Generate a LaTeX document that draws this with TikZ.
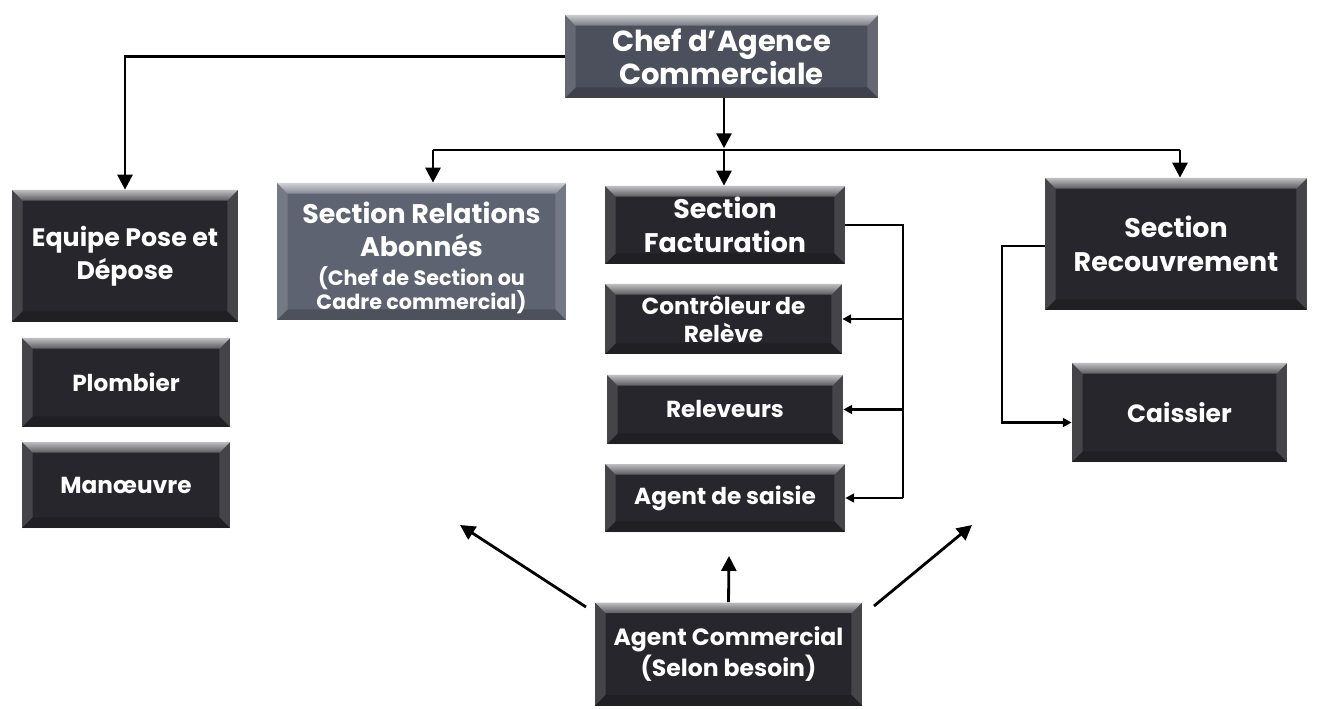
\documentclass[tikz,border=0pt]{standalone}
\usepackage{fontspec}
\setmainfont{Poppins}
\usetikzlibrary{arrows.meta}

\definecolor{boxdark}{HTML}{26262C}
\definecolor{boxmid}{HTML}{4C505C}
\definecolor{boxlight}{HTML}{5E6371}

\newcommand\titlefont{\fontsize{15.3}{19}\selectfont\bfseries}
\newcommand\chieffont{\fontsize{16.5}{19}\selectfont\bfseries}
\newcommand\agentfont{\fontsize{13.4}{18}\selectfont\bfseries}
\newcommand\cashfont{\fontsize{14.2}{18}\selectfont\bfseries}
\newcommand\teamfont{\fontsize{14.4}{19}\selectfont\bfseries}
\newcommand\itemfont{\fontsize{13.2}{16}\selectfont\bfseries}
\newcommand\subfont{\fontsize{11.8}{13}\selectfont\bfseries}

\tikzset{
  bevelbox/.style={
    fill=#1, text=white, align=center, inner sep=0pt,
    path picture={
      \path (path picture bounding box.north west) coordinate (nw)
            (path picture bounding box.north east) coordinate (ne)
            (path picture bounding box.south west) coordinate (sw)
            (path picture bounding box.south east) coordinate (se);
      % top bevel
      \shade[top color=white!70!#1, bottom color=white!25!#1]
        (nw) -- (ne) -- ([shift={(-6pt,-6pt)}]ne) -- ([shift={(6pt,-6pt)}]nw) -- cycle;
      % side bevels
      \fill[white, opacity=0.14]
        (nw) -- ([shift={(6pt,-6pt)}]nw) -- ([shift={(6pt,6pt)}]sw) -- (sw) -- cycle;
      \fill[white, opacity=0.14]
        (ne) -- ([shift={(-6pt,-6pt)}]ne) -- ([shift={(-6pt,6pt)}]se) -- (se) -- cycle;
      % bottom bevel
      \fill[black, opacity=0.18]
        (sw) -- ([shift={(6pt,6pt)}]sw) -- ([shift={(-6pt,6pt)}]se) -- (se) -- cycle;
    }
  },
  boxtext/.style={text=white, align=center, inner sep=0pt},
  sz/.style 2 args={minimum width=#1*0.02cm, minimum height=#2*0.02cm},
  link/.style={line width=1.6pt, draw=black},
  arr/.style={link, -{Triangle[length=8.5pt,width=8.5pt]}},
  smallarr/.style={link, -{Triangle[length=5pt,width=5pt]}}
}

\begin{document}
\begin{tikzpicture}[x=0.02cm, y=-0.02cm]
  \useasboundingbox[fill=white] (0,0) rectangle (1332,709);

  % top manager
  \node[bevelbox=boxmid, sz={313}{83}, font=\chieffont] (chef) at (721.5,56.5)
    {Chef d'Agence\\Commerciale};

  % left team
  \node[bevelbox=boxdark, sz={226}{132}, font=\teamfont] (equipe) at (125,256)
    {Equipe Pose et\\Dépose};
  \node[bevelbox=boxdark, sz={208}{89}, font=\itemfont] (plomb) at (126,382.5) {Plombier};
  \node[bevelbox=boxdark, sz={208}{86}, font=\itemfont] (manoe) at (126,485) {Manœuvre};

  % subscriber relations: box, then its text set a little below the centre
  \node[bevelbox=boxlight, sz={289}{137}] (rel) at (421.5,251.5) {};
  \node[boxtext, font=\titlefont] (reltext) at (421.5,258)
    {Section Relations\\Abonnés\\[-3pt]
     \subfont (Chef de Section ou\\[-5pt]\subfont Cadre commercial)};

  % billing section and its staff
  \node[bevelbox=boxdark, sz={240}{78}, font=\titlefont] (fact) at (725,225)
    {Section\\Facturation};
  \node[bevelbox=boxdark, sz={237}{70}, font=\itemfont] (ctrl) at (723.5,319)
    {Contrôleur de\\Relève};
  \node[bevelbox=boxdark, sz={236}{69}, font=\itemfont] (relev) at (725,409.5) {Releveurs};
  \node[bevelbox=boxdark, sz={240}{68}, font=\itemfont] (saisie) at (725,498) {Agent de saisie};

  % collection section
  \node[bevelbox=boxdark, sz={262}{132}, font=\titlefont] (recouv) at (1176,244)
    {Section\\Recouvrement};
  \node[bevelbox=boxdark, sz={215}{99}, font=\cashfont] (caisse) at (1179.5,412.5) {Caissier};

  % commercial agent
  \node[bevelbox=boxdark, sz={267}{103}, font=\agentfont] (agent) at (728.5,654)
    {Agent Commercial\\(Selon besoin)};

  % routing points
  \coordinate (bus) at (724,150);
  \coordinate (busL) at (433,150);
  \coordinate (busR) at (1180,150);
  \coordinate (factR) at (903,225);
  \coordinate (recL) at (1002,246);
  \coordinate (tipL) at (460,525);
  \coordinate (tipM) at (729,556);
  \coordinate (tipR) at (972,525);
  \coordinate (startL) at (586,607);
  \coordinate (startR) at (874,606);

  % hierarchy links
  \draw[arr] (chef.west) -| (equipe.north);
  \draw[arr] (bus |- chef.south) -- ([yshift=1pt]bus);
  \draw[link] (busL) -- (busR);
  \draw[arr] (bus) -- (bus |- fact.north);
  \draw[arr] (busL) -- (busL |- rel.north);
  \draw[arr] (busR) -- (busR |- recouv.north);

  % billing bracket
  \draw[link] (fact.east |- factR) -- (factR) -- (factR |- saisie.east);
  \draw[smallarr] (factR |- ctrl.east) -- (ctrl.east);
  \draw[smallarr] (factR |- relev.east) -- (relev.east);
  \draw[smallarr] (factR |- saisie.east) -- (saisie.east);

  % collection bracket
  \draw[smallarr] (recouv.west |- recL) -- (recL) |- ([yshift=-5.7pt]caisse.west);

  % commercial agent support arrows
  \draw[arr] (startL) -- (tipL);
  \draw[arr] (agent.north) -- (tipM);
  \draw[arr] (startR) -- (tipR);
\end{tikzpicture}
\end{document}
